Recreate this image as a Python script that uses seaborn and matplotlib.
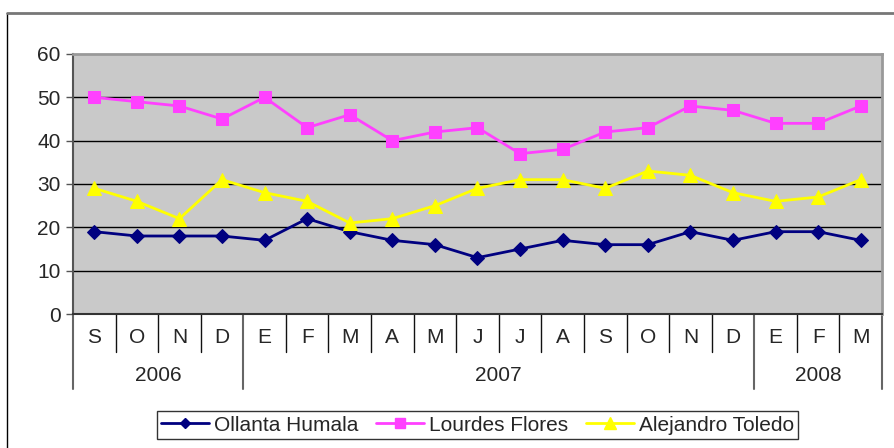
import matplotlib
matplotlib.use("Agg")
import matplotlib.pyplot as plt
import matplotlib.transforms as mtransforms
from matplotlib.lines import Line2D
import seaborn as sns
import pandas as pd

months = ["S", "O", "N", "D", "E", "F", "M", "A", "M", "J", "J", "A", "S", "O", "N", "D", "E", "F", "M"]
years = ["2006", "2007", "2008"]
year_counts = [4, 12, 3]
ollanta = [19, 18, 18, 18, 17, 22, 19, 17, 16, 13, 15, 17, 16, 16, 19, 17, 19, 19, 17]
lourdes = [50, 49, 48, 45, 50, 43, 46, 40, 42, 43, 37, 38, 42, 43, 48, 47, 44, 44, 48]
toledo = [29, 26, 22, 31, 28, 26, 21, 22, 25, 29, 31, 31, 29, 33, 32, 28, 26, 27, 31]
series_names = ["Ollanta Humala", "Lourdes Flores", "Alejandro Toledo"]

sns.set_style("white")
plt.rcParams["font.family"] = ["Liberation Sans", "DejaVu Sans"]

FS = 15
W, H = 895, 448
fig = plt.figure(figsize=(W / 100, H / 100), dpi=100)
L, R, T, B = 73, 882, 54, 314
ax = fig.add_axes([L / W, 1 - B / H, (R - L) / W, (B - T) / H])
ax.set_facecolor("#C9C9C9")

n = len(months)
df = pd.DataFrame({"x": list(range(n)) * 3,
                   "v": ollanta + lourdes + toledo,
                   "s": [series_names[0]] * n + [series_names[1]] * n + [series_names[2]] * n})
colors = ["#000080", "#FF40FF", "#FFFF00"]
markers = ["D", "s", "^"]
msizes = [7, 9, 10]
for name, c, m, ms in zip(series_names, colors, markers, msizes):
    sub = df[df.s == name]
    sns.lineplot(data=sub, x="x", y="v", ax=ax, color=c, marker=m, markersize=ms,
                 markeredgecolor=c, linewidth=2, legend=False, zorder=3)

ax.set_xlim(-0.5, n - 0.5)
ax.set_ylim(0, 60)
ax.set_yticks(range(0, 61, 10))
ax.set_yticklabels([str(v) for v in range(0, 61, 10)], fontsize=FS)
for yv in range(10, 60, 10):
    ax.axhline(yv, color="black", linewidth=1, zorder=1)
ax.set_xticks([])
ax.set_xlabel("")
ax.set_ylabel("")
ax.tick_params(axis="y", direction="out", length=5, width=1, color="#555555", pad=4, left=True)
for side in ["top", "right"]:
    ax.spines[side].set_color("#999999")
    ax.spines[side].set_linewidth(2)
ax.spines["left"].set_color("#555555")
ax.spines["left"].set_linewidth(1.5)
ax.spines["bottom"].set_color("#333333")
ax.spines["bottom"].set_linewidth(1.5)

trans = mtransforms.blended_transform_factory(ax.transData, ax.transAxes)
month_y = -0.092
sep_bottom = -0.146
year_y = -0.238
year_bottom = -0.29
for i, mth in enumerate(months):
    ax.text(i, month_y, mth, transform=trans, ha="center", va="center", fontsize=FS)
boundaries = [0]
for c in year_counts:
    boundaries.append(boundaries[-1] + c)
for k in range(n + 1):
    xb = k - 0.5
    if k in boundaries:
        ax.add_line(Line2D([xb, xb], [0, year_bottom], transform=trans, color="#666666",
                           linewidth=1.5, clip_on=False))
    else:
        ax.add_line(Line2D([xb, xb], [0, sep_bottom], transform=trans, color="#111111",
                           linewidth=1, clip_on=False))
for j, yr in enumerate(years):
    mid = (boundaries[j] + boundaries[j + 1]) / 2 - 0.5
    ax.text(mid, year_y, yr, transform=trans, ha="center", va="center", fontsize=FS)

handles = [Line2D([], [], color=c, marker=m, markersize=ms * 0.8, linewidth=2, markeredgecolor=c)
           for c, m, ms in zip(colors, markers, msizes)]
leg = fig.legend(handles, series_names, loc="center", bbox_to_anchor=(477.5 / W, 1 - 425 / H),
                 ncol=3, fontsize=FS, frameon=True, fancybox=False, handlelength=2.3,
                 handletextpad=0.25, columnspacing=0.85, borderpad=0.2, borderaxespad=0)
leg.get_frame().set_edgecolor("black")
leg.get_frame().set_linewidth(1)

# outer chart border
fig.add_artist(Line2D([7 / W, 7 / W], [0, 1 - 13 / H], transform=fig.transFigure,
                      color="black", linewidth=1))
fig.add_artist(Line2D([7 / W, 1], [1 - 13 / H, 1 - 13 / H], transform=fig.transFigure,
                      color="#777777", linewidth=2))

fig.savefig("out.png", dpi=100)
